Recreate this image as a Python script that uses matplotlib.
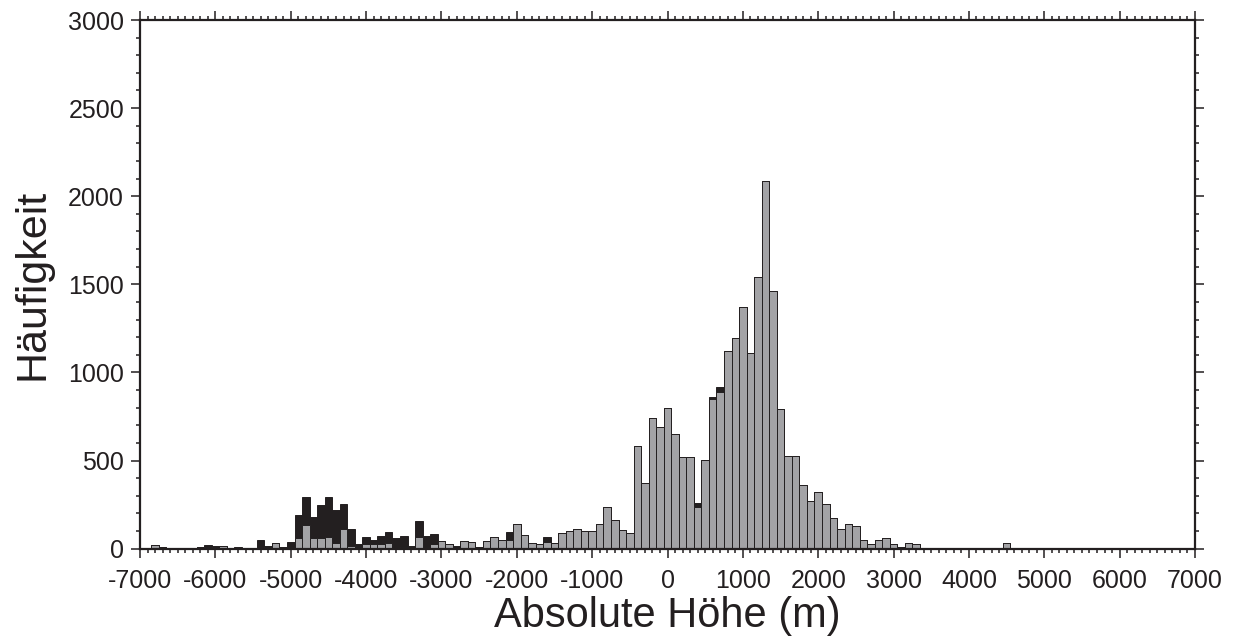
import numpy as np
import matplotlib
matplotlib.use("Agg")
import matplotlib.pyplot as plt
from matplotlib.ticker import MultipleLocator

plt.rcParams['font.family'] = ['Liberation Sans', 'DejaVu Sans']
plt.rcParams['axes.unicode_minus'] = False

# bin centres, 100 m bins
hoehe = np.arange(-7000, 7001, 100)

# total counts (black, drawn behind)
alle = [0, 3, 23, 9, 4, 3, 3, 4, 7, 21,
        15, 15, 6, 8, 3, 3, 47, 13, 30, 11,
        36, 193, 294, 178, 248, 294, 220, 252, 114, 25,
        66, 51, 72, 95, 62, 74, 17, 157, 74, 83,
        42, 28, 17, 42, 38, 11, 42, 64, 51, 93,
        140, 76, 30, 25, 66, 30, 87, 100, 112, 98,
        98, 138, 239, 163, 104, 91, 580, 371, 744, 691,
        799, 650, 519, 523, 259, 505, 860, 918, 1123, 1193,
        1371, 1112, 1542, 2087, 1462, 795, 527, 528, 362, 269,
        320, 254, 176, 110, 140, 129, 51, 28, 47, 61,
        27, 11, 32, 25, 5, 5, 5, 6, 3, 3,
        3, 3, 3, 3, 3, 30, 2, 2, 2, 2,
        4, 2, 2, 2, 2, 2, 2, 2, 2, 2,
        2, 2, 2, 2, 2, 2, 2, 2, 2, 4,
        0]

# subset (grey, drawn in front)
teil = [0, 3, 23, 9, 4, 3, 3, 4, 7, 8,
        12, 15, 6, 4, 3, 3, 8, 10, 30, 5,
        11, 59, 134, 59, 59, 68, 32, 110, 13, 8,
        26, 26, 26, 32, 6, 9, 4, 66, 8, 26,
        42, 28, 12, 42, 38, 11, 42, 64, 51, 51,
        140, 76, 30, 25, 36, 30, 87, 100, 112, 98,
        98, 138, 239, 163, 104, 91, 580, 371, 744, 691,
        799, 650, 519, 523, 239, 505, 847, 891, 1123, 1193,
        1371, 1112, 1542, 2087, 1462, 795, 527, 528, 362, 269,
        320, 254, 176, 110, 140, 129, 51, 28, 47, 61,
        27, 11, 32, 25, 5, 5, 5, 6, 3, 3,
        3, 3, 3, 3, 3, 30, 2, 2, 2, 2,
        4, 2, 2, 2, 2, 2, 2, 2, 2, 2,
        2, 2, 2, 2, 2, 2, 2, 2, 2, 4,
        0]

fig = plt.figure(figsize=(12.35, 6.39), dpi=100)
ax = fig.add_axes([0.1134, 0.1413, 0.8542, 0.8274])

ax.bar(hoehe, alle, width=100, color='#231f20', edgecolor='#231f20', linewidth=0.7)
ax.bar(hoehe, teil, width=100, color='#a3a3a6', edgecolor='#231f20', linewidth=0.7)

ax.set_xlim(-7000, 7000)
ax.set_ylim(0, 3000)

ax.xaxis.set_major_locator(MultipleLocator(1000))
ax.xaxis.set_minor_locator(MultipleLocator(100))
ax.yaxis.set_major_locator(MultipleLocator(500))
ax.yaxis.set_minor_locator(MultipleLocator(100))

ax.tick_params(which='both', direction='out', top=True, right=True,
               width=1.1, color='#231f20', labelsize=18, labelcolor='#231f20')
ax.tick_params(which='major', length=6.5)
ax.tick_params(axis='x', which='major', pad=8)
ax.tick_params(axis='y', which='major', pad=5)
ax.tick_params(which='minor', length=3.2)

for s in ax.spines.values():
    s.set_linewidth(1.6)
    s.set_color('#231f20')

ax.set_xlabel('Absolute Höhe (m)', fontsize=30, color='#231f20', labelpad=2)
ax.set_ylabel('Häufigkeit', fontsize=31, color='#231f20', labelpad=11)

fig.savefig('out.png', dpi=100)
